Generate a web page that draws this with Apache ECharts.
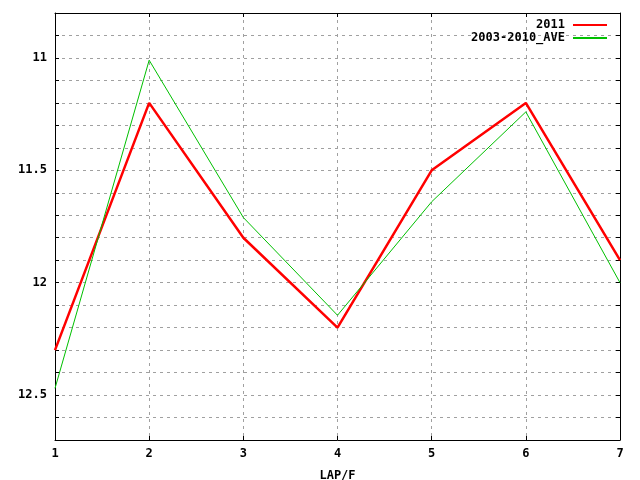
<!DOCTYPE html>
<html>
<head>
<meta charset="utf-8">
<script src="https://cdn.jsdelivr.net/npm/echarts@6/dist/echarts.min.js"></script>
<style>
  html, body { margin: 0; padding: 0; background: #fff; }
  #chart { width: 640px; height: 480px; }
</style>
</head>
<body>
<div id="chart"></div>
<script>
// lap numbers and lap times
const laps = [1, 2, 3, 4, 5, 6, 7]
const lap2011 = [12.3, 11.2, 11.8, 12.2, 11.5, 11.2, 11.9]
const lapAve = [12.47, 11.01, 11.71, 12.145, 11.64, 11.24, 12.0]
const seriesNames = ["2011", "2003-2010_AVE"]
const xLabel = "LAP/F"

const font = "DejaVu Sans Mono"
const gridLine = { show: true, lineStyle: { color: "#a0a0a0", type: [3, 4], width: 1 } }
const tick = { show: true, inside: true, length: 4, lineStyle: { color: "#000" } }
const line = { show: true, lineStyle: { color: "#000", width: 1 } }

const pairs = ys => laps.map((x, i) => [x, ys[i]])

const myChart = echarts.init(document.getElementById("chart"))
const option = {
    animation: false,
    backgroundColor: "#fff",
    grid: { left: 55, right: 20, top: 13, bottom: 40, outerBoundsMode: "none", containLabel: false },
    legend: {
        orient: "vertical",
        right: 27,
        top: 14,
        align: "right",
        itemGap: 1,
        itemWidth: 34,
        itemHeight: 12,
        itemStyle: { opacity: 0 },
        textStyle: { fontFamily: font, fontWeight: "bold", fontSize: 12, color: "#000", padding: [0, 3, 0, 0] },
        data: seriesNames
    },
    xAxis: [{
        type: "value", min: 1, max: 7, interval: 1,
        name: xLabel, nameLocation: "middle", nameGap: 30,
        nameTextStyle: { fontFamily: font, fontWeight: "bold", fontSize: 12, color: "#000" },
        axisLine: line, axisTick: tick, splitLine: gridLine,
        axisLabel: { fontFamily: font, fontWeight: "bold", fontSize: 12, color: "#000", margin: 8 }
    }, {
        type: "value", min: 1, max: 7, interval: 1, position: "top",
        axisLine: line, axisTick: tick, splitLine: { show: false },
        axisLabel: { show: false }
    }],
    yAxis: [{
        type: "value", min: 10.8, max: 12.7, interval: 0.1, inverse: true,
        axisLine: line, axisTick: tick, splitLine: gridLine,
        axisLabel: {
            fontFamily: font, fontWeight: "bold", fontSize: 12, color: "#000", margin: 8,
            formatter: v => {
                const r = Math.round(v * 10)
                return r % 5 === 0 ? String(r / 10) : ""
            }
        }
    }, {
        type: "value", min: 10.8, max: 12.7, interval: 0.1, inverse: true, position: "right",
        axisLine: line, axisTick: tick, splitLine: { show: false },
        axisLabel: { show: false }
    }],
    series: [{
        name: seriesNames[0], type: "line", data: pairs(lap2011),
        symbol: "none", color: "#ff0000",
        lineStyle: { color: "#ff0000", width: 2.5 }
    }, {
        name: seriesNames[1], type: "line", data: pairs(lapAve),
        symbol: "none", color: "#00c000",
        lineStyle: { color: "#00c000", width: 1 }
    }]
}
myChart.setOption(option)
</script>
</body>
</html>
